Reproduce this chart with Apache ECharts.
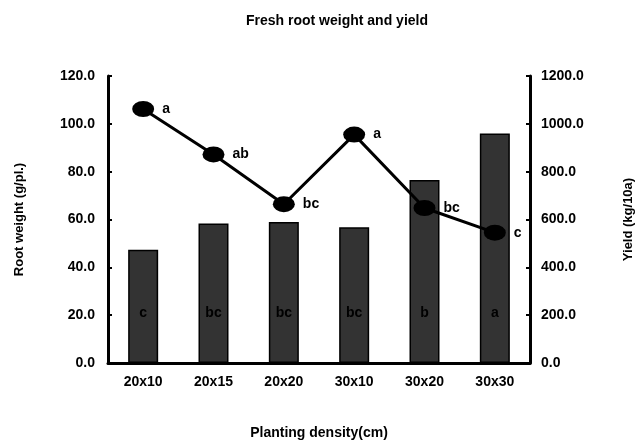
<!DOCTYPE html>
<html>
<head>
<meta charset="utf-8">
<script src="https://cdn.jsdelivr.net/npm/echarts@6/dist/echarts.min.js"></script>
<style>html,body{margin:0;padding:0;background:#fff}#c{width:643px;height:445px}</style>
</head>
<body>
<div id="c"></div>
<script>
var categories = ['20x10', '20x15', '20x20', '30x10', '30x20', '30x30'];
var rootWeight = [47.3, 58.3, 59.0, 56.8, 76.5, 96.0];
var rootLetters = ['c', 'bc', 'bc', 'bc', 'b', 'a'];
var yieldValues = [1062, 872, 664, 955, 648, 545];
var yieldLetters = ['a', 'ab', 'bc', 'a', 'bc', 'c'];
var leftTicks = [0, 120, 20];
var rightTicks = [0, 1200, 200];

var F = 'Liberation Sans, Arial, sans-serif';
var chart = echarts.init(document.getElementById('c'));
chart.setOption({
  animation: false,
  backgroundColor: '#fff',
  title: {
    text: 'Fresh root weight and yield',
    left: 332, top: 9, textAlign: 'center',
    textStyle: {fontFamily: F, fontWeight: 'bold', fontSize: 14, color: '#000'}
  },
  grid: {left: 108, right: 101, top: 76, bottom: 75},
  xAxis: {
    type: 'category',
    data: categories,
    name: 'Planting density(cm)',
    nameLocation: 'middle',
    nameGap: 63,
    nameTextStyle: {fontFamily: F, fontWeight: 'bold', fontSize: 14, color: '#000'},
    axisLine: {lineStyle: {color: '#000', width: 3}},
    axisTick: {inside: true, length: 3, lineStyle: {color: '#000', width: 2}},
    axisLabel: {fontFamily: F, fontWeight: 'bold', fontSize: 14, color: '#000', margin: 12}
  },
  yAxis: [{
    type: 'value',
    min: leftTicks[0], max: leftTicks[1], interval: leftTicks[2],
    name: 'Root weight (g/pl.)',
    nameLocation: 'middle',
    nameGap: 82,
    nameTextStyle: {fontFamily: F, fontWeight: 'bold', fontSize: 13, color: '#000'},
    axisLine: {show: true, lineStyle: {color: '#000', width: 3}},
    axisTick: {show: true, inside: true, length: 4, lineStyle: {color: '#000', width: 2}},
    splitLine: {show: false},
    axisLabel: {fontFamily: F, fontWeight: 'bold', fontSize: 14, color: '#000', margin: 13,
      formatter: function (v) { return v.toFixed(1); }}
  }, {
    type: 'value',
    min: rightTicks[0], max: rightTicks[1], interval: rightTicks[2],
    name: 'Yield (kg/10a)',
    nameLocation: 'middle',
    nameGap: 92,
    nameTextStyle: {fontFamily: F, fontWeight: 'bold', fontSize: 13, color: '#000'},
    axisLine: {show: true, lineStyle: {color: '#000', width: 3}},
    axisTick: {show: true, inside: true, length: 4, lineStyle: {color: '#000', width: 2}},
    splitLine: {show: false},
    axisLabel: {fontFamily: F, fontWeight: 'bold', fontSize: 14, color: '#000', margin: 11,
      formatter: function (v) { return v.toFixed(1); }}
  }],
  series: [{
    type: 'bar',
    yAxisIndex: 0,
    data: rootWeight,
    barWidth: 30,
    itemStyle: {color: '#333333', borderColor: '#000', borderWidth: 1.5},
    label: {
      show: true, position: 'insideBottom', distance: 43,
      fontFamily: F, fontWeight: 'bold', fontSize: 14, color: '#000',
      formatter: function (p) { return rootLetters[p.dataIndex]; }
    },
    z: 1
  }, {
    type: 'line',
    yAxisIndex: 1,
    data: yieldValues,
    symbol: 'circle',
    symbolSize: [22, 16],
    lineStyle: {color: '#000', width: 3},
    itemStyle: {color: '#000'},
    label: {
      show: true, position: 'right', distance: 8,
      fontFamily: F, fontWeight: 'bold', fontSize: 14, color: '#000',
      formatter: function (p) { return yieldLetters[p.dataIndex]; }
    },
    z: 3
  }]
});
</script>
</body>
</html>
